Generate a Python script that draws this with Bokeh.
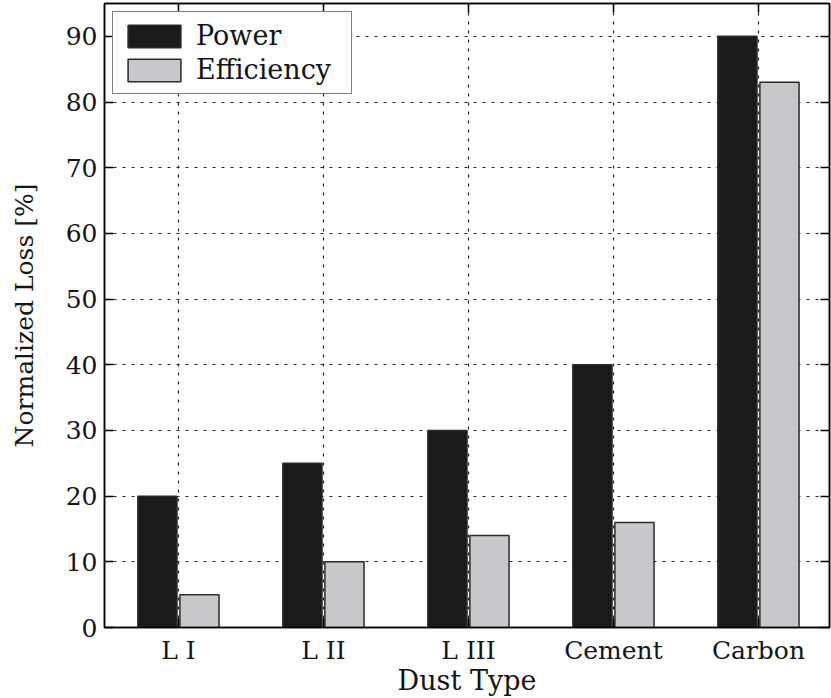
from bokeh.plotting import figure
from bokeh.models import (Range1d, LinearAxis, FixedTicker, Legend, LegendItem,
                          ColumnDataSource)
from bokeh.transform import dodge
from bokeh.embed import file_html
from bokeh.resources import INLINE

categories = ["L I", "L II", "L III", "Cement", "Carbon"]
power = [20, 25, 30, 40, 90]
efficiency = [5, 10, 14, 16, 83]
y_ticks = [0, 10, 20, 30, 40, 50, 60, 70, 80, 90]

xs = list(range(len(categories)))
src = ColumnDataSource(dict(x=xs, power=power, eff=efficiency))

FONT = "DejaVu Serif"

p = figure(width=831, height=698, x_range=Range1d(-0.51, 4.49), y_range=Range1d(0, 95),
           output_backend="svg", toolbar_location=None,
           min_border_left=104, min_border_right=2, min_border_top=3, min_border_bottom=0)

p.background_fill_color = "white"
p.border_fill_color = "white"
p.outline_line_color = "black"
p.outline_line_width = 1.5

r1 = p.vbar(x=dodge("x", -0.145), top="power", width=0.27, bottom=0, source=src,
            fill_color="#1a1a1a", line_color="#2a2a2a", line_width=1.5)
r2 = p.vbar(x=dodge("x", 0.145), top="eff", width=0.27, bottom=0, source=src,
            fill_color="#c8c8cb", line_color="#2a2a2a", line_width=1.5)

# grid
for g in (p.xgrid, p.ygrid):
    g.grid_line_color = "#222222"
    g.grid_line_dash = "3 6"
    g.grid_line_width = 1.2
p.xgrid.ticker = FixedTicker(ticks=xs)
p.ygrid.ticker = FixedTicker(ticks=y_ticks)

# axes
xa = p.xaxis[0]
xa.ticker = FixedTicker(ticks=xs)
xa.major_label_overrides = {i: c for i, c in zip(xs, categories)}
xa.axis_label = "Dust Type"
xa.major_label_standoff = 8
xa.axis_label_standoff = -3

ya = p.yaxis[0]
ya.ticker = FixedTicker(ticks=y_ticks)
ya.axis_label = "Normalized Loss [%]"
ya.major_label_standoff = 7
ya.axis_label_standoff = 24

for ax in (xa, ya):
    ax.major_label_text_font = FONT
    ax.major_label_text_font_size = "25px"
    ax.major_label_text_color = "#151515"
    ax.axis_label_text_font = FONT
    ax.axis_label_text_font_style = "normal"
    ax.axis_label_text_font_size = "25px"
    ax.axis_label_text_color = "#151515"
    ax.axis_line_color = "black"
    ax.axis_line_width = 1.5
    ax.major_tick_in = 9
    ax.major_tick_out = 0
    ax.major_tick_line_color = "black"
    ax.major_tick_line_width = 1.5
    ax.minor_tick_in = 0
    ax.minor_tick_out = 0
xa.axis_label_text_font_size = "27px"

# mirrored ticks on top and right
top_ax = LinearAxis(ticker=FixedTicker(ticks=xs))
right_ax = LinearAxis(ticker=FixedTicker(ticks=y_ticks))
for ax in (top_ax, right_ax):
    ax.major_label_text_font_size = "0px"
    ax.major_label_standoff = 0
    ax.major_tick_in = 9
    ax.major_tick_out = 0
    ax.major_tick_line_color = "black"
    ax.major_tick_line_width = 1.5
    ax.minor_tick_in = 0
    ax.minor_tick_out = 0
    ax.axis_line_color = "black"
    ax.axis_line_width = 1.5
top_ax.major_label_overrides = {i: "" for i in xs}
right_ax.major_label_overrides = {t: "" for t in y_ticks}
p.add_layout(top_ax, "above")
p.add_layout(right_ax, "right")

legend = Legend(items=[LegendItem(label="Power", renderers=[r1]),
                       LegendItem(label="Efficiency", renderers=[r2])],
                location="top_left")
legend.glyph_width = 66
legend.glyph_height = 28
legend.label_text_font = FONT
legend.label_text_font_size = "27px"
legend.label_text_color = "#151515"
legend.label_standoff = 9
legend.label_width = 147
legend.label_height = 28
legend.padding = 8
legend.spacing = 3
legend.margin = 8
legend.border_line_color = "black"
legend.border_line_width = 1.5
legend.background_fill_alpha = 1.0
p.add_layout(legend)

open("out.html", "w").write(file_html(p, INLINE))
